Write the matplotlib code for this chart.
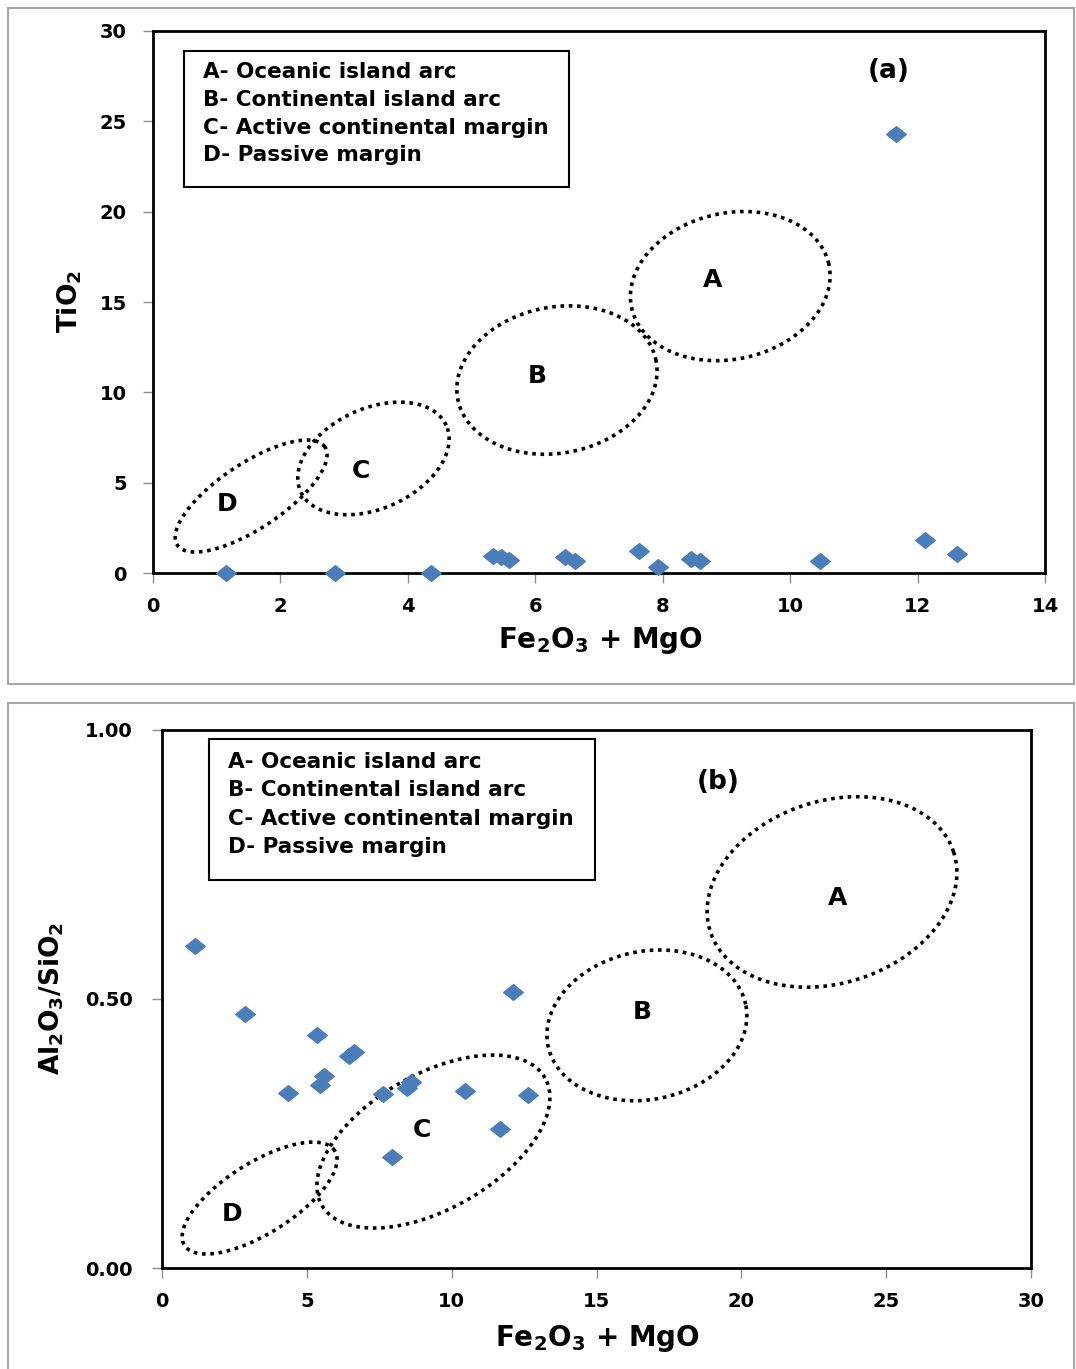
import numpy as np
import matplotlib
matplotlib.use('Agg')
import matplotlib.pyplot as plt
from matplotlib.patches import Rectangle
from matplotlib.path import Path

# ---------------- data ----------------
fe_mgo = [1.15, 2.86, 4.36, 5.34, 5.46, 5.59, 6.47, 6.62, 7.63, 7.93, 8.45, 8.59, 10.47, 11.66, 12.12, 12.62]
tio2 = [0.0, 0.0, 0.0, 0.94, 0.90, 0.70, 0.90, 0.66, 1.20, 0.33, 0.77, 0.66, 0.66, 24.3, 1.80, 1.05]
al2o3_sio2 = [0.598, 0.472, 0.325, 0.433, 0.340, 0.357, 0.394, 0.401, 0.323, 0.206, 0.335, 0.346, 0.329, 0.258, 0.513, 0.322]

legend_lines = ["A- Oceanic island arc", "B- Continental island arc",
                "C- Active continental margin", "D- Passive margin"]
xticks_a = [0, 2, 4, 6, 8, 10, 12, 14]
yticks_a = [0, 5, 10, 15, 20, 25, 30]
xticks_b = [0, 5, 10, 15, 20, 25, 30]
yticks_b = [0.0, 0.5, 1.0]

W, H = 1076, 1369
plt.rcParams['mathtext.fontset'] = 'dejavusans'
FONT = 'DejaVu Sans'
plt.rcParams['font.family'] = FONT

fig = plt.figure(figsize=(W / 100, H / 100), dpi=100)


def fx(x):
    return x / W


def fy(y):
    return 1 - y / H


def axes_rect(x0, y0, x1, y1):
    return [fx(x0), fy(y1), fx(x1) - fx(x0), fy(y0) - fy(y1)]


# outer grey frames
for (x0, y0, x1, y1) in [(8, 8, 1074, 684), (8, 703, 1074, 1372)]:
    fig.add_artist(Rectangle((fx(x0), fy(y1)), fx(x1) - fx(x0), fy(y0) - fy(y1),
                             transform=fig.transFigure, fill=False,
                             edgecolor='#a6a6a6', lw=1.5))

diamond = Path([(-1, 0), (0, 0.8), (1, 0), (0, -0.8), (-1, 0)],
               [Path.MOVETO, Path.LINETO, Path.LINETO, Path.LINETO, Path.CLOSEPOLY])


def draw_region(ax, cx, cy, a, b, ang):
    c = ax.transData.transform((cx, cy))
    phi = np.linspace(0, 2 * np.pi, 500)
    t = np.deg2rad(ang)
    px = c[0] + a * np.cos(t) * np.cos(phi) - b * np.sin(t) * np.sin(phi)
    py = c[1] + a * np.sin(t) * np.cos(phi) + b * np.cos(t) * np.sin(phi)
    d = ax.transData.inverted().transform(np.column_stack([px, py]))
    ax.plot(d[:, 0], d[:, 1], color='black', lw=2.6, linestyle=(0, (1, 1.3)),
            dash_capstyle='butt', clip_on=False, zorder=3)


def style_axes(ax, ypad, xpad):
    for s in ax.spines.values():
        s.set_linewidth(2.0)
        s.set_color('black')
    ax.tick_params(axis='both', direction='out', length=7, width=1, color='#8c8c8c',
                   labelsize=14)
    ax.tick_params(axis='y', pad=ypad)
    ax.tick_params(axis='x', pad=xpad)
    for lab in ax.get_xticklabels() + ax.get_yticklabels():
        lab.set_fontweight('bold')


def legend_box(x0, y0, x1, y1, tx, ty_list):
    fig.add_artist(Rectangle((fx(x0), fy(y1)), fx(x1) - fx(x0), fy(y0) - fy(y1),
                             transform=fig.transFigure, fill=True, facecolor='white',
                             edgecolor='black', lw=1.5, zorder=5))
    for t, ty in zip(legend_lines, ty_list):
        fig.text(fx(tx), fy(ty), t, fontsize=15.5, fontweight='bold',
                 ha='left', va='center', zorder=6)


# ---------------- panel (a) ----------------
ax1 = fig.add_axes(axes_rect(153, 31, 1045, 573))
ax1.set_xlim(0, 14)
ax1.set_ylim(0, 30)
ax1.set_xticks(xticks_a)
ax1.set_yticks(yticks_a)
ax1.set_xticklabels([str(v) for v in xticks_a])
ax1.set_yticklabels([str(v) for v in yticks_a])
style_axes(ax1, 12, 10)
ax1.scatter(fe_mgo, tio2, marker=diamond, s=200, color='#4a7ebb', zorder=4, clip_on=False)

for (cx, cy, a, b, ang) in [(9.06, 15.88, 101, 73, 12.6), (6.34, 10.68, 101, 73, 11),
                            (3.46, 6.34, 80, 50, 24.5), (1.54, 4.26, 88.6, 32.5, 33.6)]:
    draw_region(ax1, cx, cy, a, b, ang)
for (lx, ly, t) in [(8.79, 16.2, 'A'), (6.03, 10.9, 'B'), (3.27, 5.64, 'C'), (1.16, 3.82, 'D')]:
    ax1.text(lx, ly, t, fontsize=18, fontweight='bold', ha='center', va='center')
ax1.text(11.54, 27.8, '(a)', fontsize=19, fontweight='bold', ha='center', va='center')

legend_box(184, 51, 569, 187, 203, [72, 100, 128, 155])
fig.text(fx(600), fy(641), r'Fe$_\mathbf{2}$O$_\mathbf{3}$ + MgO', fontsize=20,
         fontweight='bold', ha='center', va='center')
fig.text(fx(70), fy(302), r'TiO$_\mathbf{2}$', fontsize=19, fontweight='bold',
         ha='center', va='center', rotation=90)

# ---------------- panel (b) ----------------
ax2 = fig.add_axes(axes_rect(162, 730, 1031, 1268))
ax2.set_xlim(0, 30)
ax2.set_ylim(0, 1.0)
ax2.set_xticks(xticks_b)
ax2.set_yticks(yticks_b)
ax2.set_xticklabels([str(v) for v in xticks_b])
ax2.set_yticklabels(['%.2f' % v for v in yticks_b])
style_axes(ax2, 14, 10)
ax2.scatter(fe_mgo, al2o3_sio2, marker=diamond, s=200, color='#4a7ebb', zorder=4, clip_on=False)

for (cx, cy, a, b, ang) in [(23.13, 0.699, 128, 91, 18.2), (16.74, 0.451, 101, 74, 12),
                            (9.37, 0.235, 128.5, 67.4, 29.7), (3.37, 0.130, 88.8, 35.3, 32.2)]:
    draw_region(ax2, cx, cy, a, b, ang)
for (lx, ly, t) in [(23.33, 0.688, 'A'), (16.57, 0.476, 'B'), (8.97, 0.257, 'C'), (2.42, 0.100, 'D')]:
    ax2.text(lx, ly, t, fontsize=18, fontweight='bold', ha='center', va='center')
ax2.text(19.19, 0.903, '(b)', fontsize=19, fontweight='bold', ha='center', va='center')

legend_box(209, 739, 595, 880, 228, [762, 790, 819, 847])
fig.text(fx(597), fy(1338), r'Fe$_\mathbf{2}$O$_\mathbf{3}$ + MgO', fontsize=20,
         fontweight='bold', ha='center', va='center')
fig.text(fx(52), fy(998), r'Al$_\mathbf{2}$O$_\mathbf{3}$/SiO$_\mathbf{2}$', fontsize=19,
         fontweight='bold', ha='center', va='center', rotation=90)

fig.savefig('out.png', dpi=100, facecolor='white')
